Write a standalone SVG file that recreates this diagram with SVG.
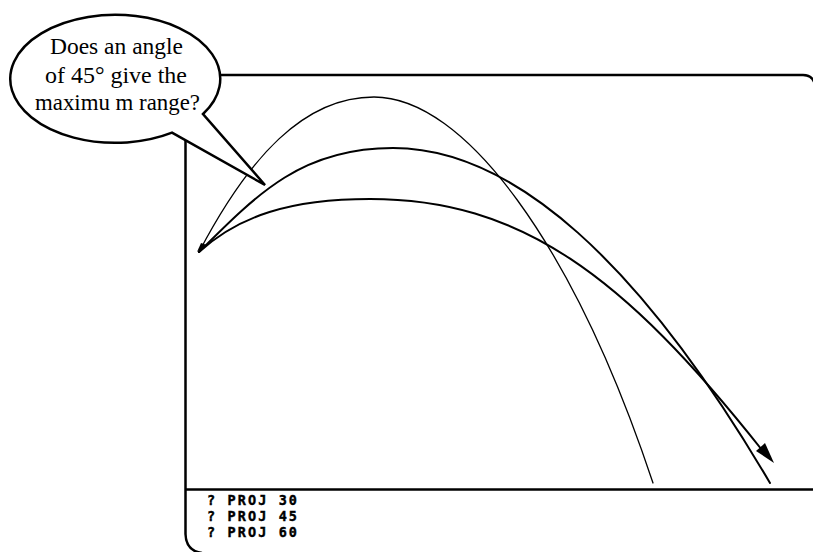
<svg xmlns="http://www.w3.org/2000/svg" width="813" height="552" viewBox="0 0 813 552">
<style>
.frame{fill:none;stroke:#000;stroke-width:2.5}
.traj{fill:none;stroke:#000;stroke-linejoin:round;stroke-linecap:round}
.thin{stroke-width:1.3}
.thick{stroke-width:2}
.cmd{font-family:"DejaVu Sans Mono","Liberation Mono",monospace;font-weight:bold;font-size:13.5px;fill:#000;stroke:#000;stroke-width:0.4}
</style>
<rect width="813" height="552" fill="#fff"/>
<g id="screen">
<path class="frame" d="M 215,75 L 803,75 Q 813,75 815,85 L 815,560"/>
<path class="frame" d="M 185.5,75 L 185.5,534 Q 186,551 202,553"/>
<path class="frame" d="M 185,489.5 L 815,489.5"/>
</g>
<g id="connectors">
<path id="proj60" class="traj thin" d="M 199,252 C 249,157 304,97 374,97 C 464,97 573,243 653,483"/>
<path id="proj45" class="traj thick" d="M 199,252 C 259,192 303,148 393,148 C 513,148 640,262 770,483"/>
<path id="proj30" class="traj thick" d="M 199,252 C 239,216 290,199 370,199 C 520,199 623,274.5 762,450"/>
<polygon points="774,463 756,451 765,443" fill="#000"/>
<polygon points="197,252 201,243 207,245" fill="#000"/>
</g>
<g id="commands">
<text class="cmd" x="207" y="505" textLength="90" lengthAdjust="spacing">? PROJ 30</text>
<text class="cmd" x="207" y="521" textLength="90" lengthAdjust="spacing">? PROJ 45</text>
<text class="cmd" x="207" y="537" textLength="90" lengthAdjust="spacing">? PROJ 60</text>
</g>
<g id="bubble">
<path d="M 172,132.7 L 265,185 L 203,114 A 105 64 0 1 0 172,132.7 Z" fill="#fff" stroke="#000" stroke-width="2.5" stroke-linejoin="miter"/>
<g font-family="Liberation Serif, Times New Roman, Times, serif" font-size="23.5" fill="#000" text-anchor="middle">
<text x="116.5" y="54" textLength="133" lengthAdjust="spacingAndGlyphs">Does an angle</text>
<text x="116" y="83" textLength="142" lengthAdjust="spacingAndGlyphs">of 45° give the</text>
<text x="117.5" y="110" textLength="165" lengthAdjust="spacingAndGlyphs">maximu m range?</text>
</g>
</g>
</svg>
